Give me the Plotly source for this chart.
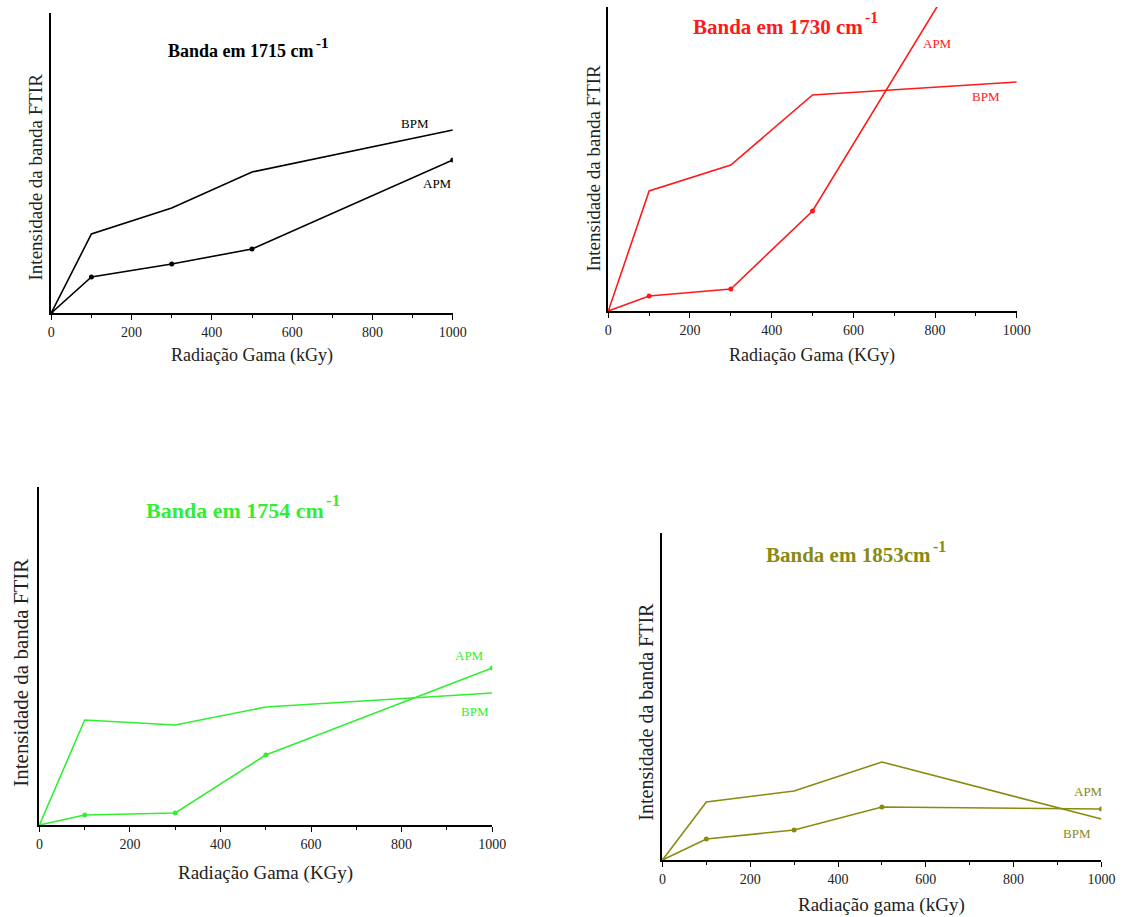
import plotly.graph_objects as go

W, H = 1140, 917

# ---- data (arbitrary intensity units) ----
dose = [0, 100, 300, 500, 1000]

bpm_1715 = [0, 79, 105, 141, 183]
apm_1715 = [0, 36, 49, 64, 153]

bpm_1730 = [0, 120, 146, 216, 229]
apm_1730 = [0, 15, 22, 100, 435]

bpm_1754 = [0, 105, 100, 118, 132]
apm_1754 = [0, 10, 12, 70, 157]

bpm_1853 = [0, 58, 69, 98, 41]
apm_1853 = [0, 21, 30, 53, 51]

x_ticks = [0, 200, 400, 600, 800, 1000]
x_tick_labels = ["0", "200", "400", "600", "800", "1000"]

titles = ["Banda em 1715 cm", "Banda em 1730 cm",
          "Banda em 1754 cm", "Banda em 1853cm"]
title_sup = "-1"
x_titles = ["Radiação Gama (kGy)", "Radiação Gama (KGy)",
            "Radiação Gama (KGy)", "Radiação gama (kGy)"]
y_title = "Intensidade da banda FTIR"

# ---- layout geometry (pixels) ----
FONT = "Liberation Serif, Times New Roman, serif"
panels = [
    dict(x0=48, x1=456, yb=313, yt=13, ymax=300, color="#000000",
         bpm=bpm_1715, apm=apm_1715,
         title_end=(316, 51), title_size=18, sup_xy=(316, 43), sup_size=15,
         xt_xy=(252, 355), xt_size=18, yt_xy=(33, 177), yt_size=19,
         bpm_lbl=(907, 190), apm_lbl=(961, 130)),
    dict(x0=614, x1=1029, yb=311, yt=7, ymax=304, color="#ff1a1a",
         bpm=bpm_1730, apm=apm_1730,
         title_end=(874, 27), title_size=21, sup_xy=(874, 18), sup_size=16,
         xt_xy=(821, 355), xt_size=18, yt_xy=(599, 168), yt_size=19,
         bpm_lbl=(925, 215), apm_lbl=(805, 268)),
    dict(x0=36, x1=496, yb=825, yt=487, ymax=338, color="#33ee33",
         bpm=bpm_1754, apm=apm_1754,
         title_end=(326, 510), title_size=22, sup_xy=(326, 501), sup_size=17,
         xt_xy=(266, 873), xt_size=19, yt_xy=(17, 673), yt_size=21,
         bpm_lbl=(963, 114), apm_lbl=(950, 170)),
    dict(x0=669, x1=1115, yb=860, yt=533, ymax=327, color="#8a8a10",
         bpm=bpm_1853, apm=apm_1853,
         title_end=(943, 555), title_size=21, sup_xy=(943, 546), sup_size=16,
         xt_xy=(892, 905), xt_size=19, yt_xy=(652, 712), yt_size=20,
         bpm_lbl=(944, 27), apm_lbl=(971, 69)),
]

fig = go.Figure()
annotations = []
layout_axes = {}

for i, p in enumerate(panels, start=1):
    xa = "x" if i == 1 else f"x{i}"
    ya = "y" if i == 1 else f"y{i}"
    fig.add_trace(go.Scatter(x=dose, y=p["bpm"], mode="lines", xaxis=xa, yaxis=ya,
                             line=dict(color=p["color"], width=1.6), showlegend=False))
    fig.add_trace(go.Scatter(x=dose, y=p["apm"], mode="lines+markers", xaxis=xa, yaxis=ya,
                             line=dict(color=p["color"], width=1.6),
                             marker=dict(color=p["color"], size=5, symbol="circle"),
                             cliponaxis=True, showlegend=False))
    xkey = "xaxis" if i == 1 else f"xaxis{i}"
    ykey = "yaxis" if i == 1 else f"yaxis{i}"
    layout_axes[xkey] = dict(
        domain=[p["x0"] / W, p["x1"] / W], anchor=ya, range=[0, 1000],
        showline=True, linecolor="black", linewidth=1.5, mirror=False,
        showgrid=False, zeroline=False,
        tickmode="array", tickvals=x_ticks, ticktext=x_tick_labels,
        ticks="outside", ticklen=5, tickwidth=1.3, tickcolor="black",
        minor=dict(dtick=100, tick0=0, ticks="outside", ticklen=3, tickwidth=1.2,
                   tickcolor="black", showgrid=False),
        tickfont=dict(family=FONT, size=14, color="#222"), fixedrange=True)
    layout_axes[ykey] = dict(
        domain=[1 - p["yb"] / H, 1 - p["yt"] / H], anchor=xa, range=[0, p["ymax"]],
        showline=True, linecolor="black", linewidth=1.5,
        showgrid=False, zeroline=False, showticklabels=False, ticks="", fixedrange=True)

    tx, ty = p["title_end"]
    annotations.append(dict(text=titles[i-1], x=tx / W, y=1 - ty / H,
                            xref="paper", yref="paper", showarrow=False,
                            xanchor="right", yanchor="middle", borderpad=0,
                            font=dict(family=FONT, size=p["title_size"], color=p["color"],
                                      weight="bold")))
    sx, sy = p["sup_xy"]
    annotations.append(dict(text=title_sup, x=sx / W, y=1 - sy / H,
                            xref="paper", yref="paper", showarrow=False,
                            xanchor="left", yanchor="middle", borderpad=0,
                            font=dict(family=FONT, size=p["sup_size"], color=p["color"],
                                      weight="bold")))
    xx, xy = p["xt_xy"]
    annotations.append(dict(text=x_titles[i-1], x=xx / W, y=1 - xy / H,
                            xref="paper", yref="paper", showarrow=False,
                            xanchor="center", yanchor="middle",
                            font=dict(family=FONT, size=p["xt_size"], color="#222")))
    yx, yy = p["yt_xy"]
    annotations.append(dict(text=y_title, x=yx / W, y=1 - yy / H, textangle=-90,
                            xref="paper", yref="paper", showarrow=False,
                            xanchor="center", yanchor="middle",
                            font=dict(family=FONT, size=p["yt_size"], color="#222")))
    bx, by = p["bpm_lbl"]
    annotations.append(dict(text="BPM", x=bx, y=by, xref=xa, yref=ya, showarrow=False,
                            font=dict(family=FONT, size=13, color=p["color"])))
    ax_, ay_ = p["apm_lbl"]
    annotations.append(dict(text="APM", x=ax_, y=ay_, xref=xa, yref=ya, showarrow=False,
                            font=dict(family=FONT, size=13, color=p["color"])))

fig.update_layout(
    width=W, height=H, margin=dict(l=0, r=0, t=0, b=0),
    paper_bgcolor="white", plot_bgcolor="white",
    annotations=annotations, showlegend=False, **layout_axes)

fig.write_html("out.html", config={"displayModeBar": False})
